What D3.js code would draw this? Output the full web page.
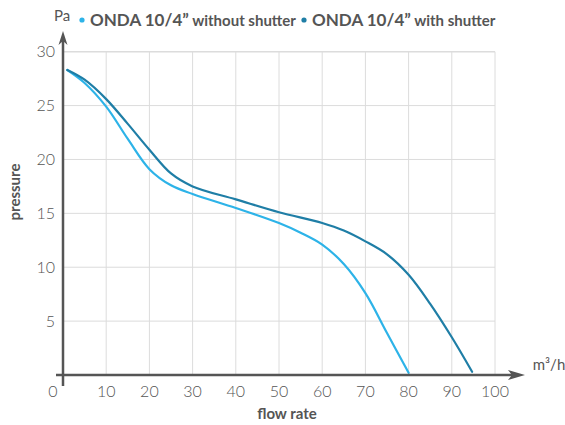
<!DOCTYPE html>
<html>
<head>
<meta charset="utf-8">
<script src="https://cdn.jsdelivr.net/npm/d3@7"></script>
<style>
  body { margin: 0; background: #fff; }
  text { font-family: Lato, "Open Sans", sans-serif; fill: #555; }
</style>
</head>
<body>
<div id="chart"></div>
<script>
// flow rate (m3/h) vs pressure (Pa)
const withoutShutter = [
    [1, 28.3], [5, 27.1], [10, 24.9], [15, 21.9], [20, 19.1], [25, 17.6],
    [30, 16.8], [40, 15.5], [50, 14.1], [55, 13.2], [60, 12.1], [65, 10.3],
    [70, 7.6], [75, 3.9], [80, 0.2]
]
const withShutter = [
    [1, 28.3], [5, 27.4], [10, 25.6], [15, 23.3], [20, 20.9], [25, 18.7],
    [30, 17.5], [40, 16.3], [50, 15.1], [60, 14.1], [65, 13.4], [70, 12.4],
    [75, 11.2], [80, 9.3], [85, 6.6], [90, 3.5], [94.7, 0.3]
]
const seriesNames = ['without shutter', 'with shutter']
const xTicks = [0, 10, 20, 30, 40, 50, 60, 70, 80, 90, 100]
const yTicks = [5, 10, 15, 20, 25, 30]

const width = 565
const height = 425
const colors = ['#2db3e8', '#1f7ea6']
const axisColor = '#555'

const svg = d3.select('#chart').append('svg')
    .attr('width', width)
    .attr('height', height)

const x = d3.scaleLinear().domain([0, 100]).range([63, 495])
const y = d3.scaleLinear().domain([0, 30]).range([375, 51.7])

// grid
const grid = svg.append('g').attr('class', 'grid')
grid.selectAll('line.v')
    .data(xTicks.filter(d => d > 0))
    .join('line')
    .attr('class', 'v')
    .attr('x1', d => x(d)).attr('x2', d => x(d))
    .attr('y1', y(30)).attr('y2', y(0))
    .attr('stroke', '#dcdcdc').attr('stroke-width', 1)
grid.selectAll('line.h')
    .data(yTicks)
    .join('line')
    .attr('class', 'h')
    .attr('x1', x(0)).attr('x2', x(100))
    .attr('y1', d => y(d)).attr('y2', d => y(d))
    .attr('stroke', '#dcdcdc').attr('stroke-width', d => d === 30 ? 1.6 : 1)

// curves
const line = d3.line()
    .x(d => x(d[0]))
    .y(d => y(d[1]))
    .curve(d3.curveCatmullRom.alpha(0.5))

svg.selectAll('path.curve')
    .data([withoutShutter, withShutter])
    .join('path')
    .attr('class', 'curve')
    .attr('d', line)
    .attr('fill', 'none')
    .attr('stroke', (d, i) => colors[i])
    .attr('stroke-width', 2.2)
    .attr('stroke-linecap', 'round')

// axes with arrows
const axes = svg.append('g').attr('class', 'axes')
axes.append('line')
    .attr('x1', x(0)).attr('x2', x(0))
    .attr('y1', 386).attr('y2', 40)
    .attr('stroke', axisColor).attr('stroke-width', 2.5)
axes.append('path')
    .attr('d', `M${x(0)},31 L${x(0) - 4.5},45 L${x(0)},41 L${x(0) + 4.5},45 Z`)
    .attr('fill', axisColor)
axes.append('line')
    .attr('x1', 56).attr('x2', 515)
    .attr('y1', y(0)).attr('y2', y(0))
    .attr('stroke', axisColor).attr('stroke-width', 2.5)
axes.append('path')
    .attr('d', `M525,${y(0)} L508,${y(0) - 5} L512,${y(0)} L508,${y(0) + 5} Z`)
    .attr('fill', axisColor)

// tick labels
svg.append('g').selectAll('text')
    .data(yTicks)
    .join('text')
    .attr('x', 55)
    .attr('y', d => y(d))
    .attr('dy', '0.35em')
    .attr('text-anchor', 'end')
    .style('font-size', '16px')
    .style('font-weight', 300)
    .text(d => d)

svg.append('g').selectAll('text')
    .data(xTicks)
    .join('text')
    .attr('x', d => d === 0 ? x(0) - 10 : x(d))
    .attr('y', 391)
    .attr('dy', '0.35em')
    .attr('text-anchor', 'middle')
    .style('font-size', '16px')
    .style('font-weight', 300)
    .text(d => d)

// axis titles
svg.append('text')
    .attr('x', 62).attr('y', 21)
    .attr('text-anchor', 'middle')
    .style('font-size', '15px')
    .text('Pa')
svg.append('text')
    .attr('x', 549).attr('y', 370)
    .attr('text-anchor', 'middle')
    .style('font-size', '15px')
    .text('m³/h')
svg.append('text')
    .attr('transform', 'translate(20,192) rotate(-90)')
    .attr('text-anchor', 'middle')
    .style('font-size', '15px')
    .style('font-weight', 700)
    .text('pressure')
svg.append('text')
    .attr('x', 287).attr('y', 419)
    .attr('text-anchor', 'middle')
    .style('font-size', '15px')
    .style('font-weight', 700)
    .text('flow rate')

// legend
const legend = svg.append('g').attr('class', 'legend')
const legendX = [82, 304]
seriesNames.forEach((name, i) => {
    legend.append('circle')
        .attr('cx', legendX[i]).attr('cy', 20)
        .attr('r', 2.6)
        .attr('fill', colors[i])
    const t = legend.append('text')
        .attr('x', legendX[i] + 8).attr('y', 26)
    t.append('tspan')
        .style('font-size', '17px')
        .style('font-weight', 700)
        .text('ONDA 10/4”')
    t.append('tspan')
        .style('font-size', '15px')
        .style('font-weight', 700)
        .text(' ' + name)
})
</script>
</body>
</html>
